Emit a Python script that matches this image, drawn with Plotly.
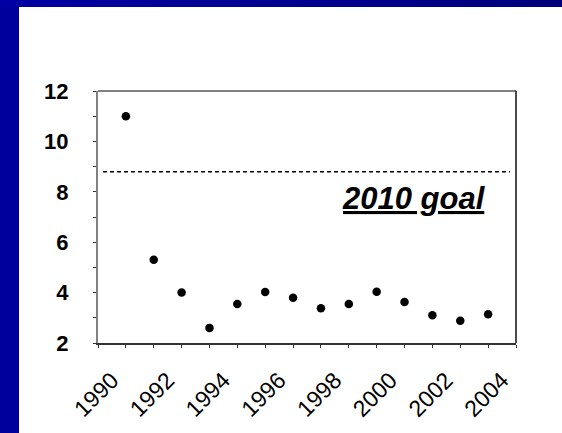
import plotly.graph_objects as go

years = [1990, 1991, 1992, 1993, 1994, 1995, 1996, 1997, 1998, 1999, 2000, 2001, 2002, 2003]
values = [11.0, 5.3, 4.0, 2.6, 3.55, 4.02, 3.8, 3.38, 3.55, 4.03, 3.63, 3.1, 2.88, 3.14]
goal_value = 8.8
goal_label = "2010 goal"
x_tick_vals = [1990, 1992, 1994, 1996, 1998, 2000, 2002, 2004]
x_tick_text = [str(v) for v in x_tick_vals]
y_tick_vals = [2, 4, 6, 8, 10, 12]

FONT = "Liberation Sans, Arial, sans-serif"

fig = go.Figure()
fig.add_trace(go.Scatter(
    x=years, y=values, mode="markers",
    marker=dict(color="black", size=8.5),
    showlegend=False, hoverinfo="x+y",
))

W, H = 562, 433
L, R, T, B = 98, 46, 91, 90
pw, ph = W - L - R, H - T - B

def px_x(p):
    return (p - L) / pw

def px_y(p):
    return 1 - (p - T) / ph

shapes = []
# left blue strip
shapes.append(dict(type="rect", xref="paper", yref="paper",
                   x0=px_x(0), x1=px_x(19), y0=px_y(H), y1=px_y(0),
                   fillcolor="#00009C", line=dict(width=0), layer="below"))
# top blue strip with gradient
n = 40
c0 = (0, 0, 0xA4)
c1 = (0, 0, 0x7E)
for i in range(n):
    a = i / (n - 1)
    col = "rgb(%d,%d,%d)" % tuple(round(c0[k] + (c1[k] - c0[k]) * a) for k in range(3))
    shapes.append(dict(type="rect", xref="paper", yref="paper",
                       x0=px_x(W * i / n), x1=px_x(W * (i + 1) / n + 1),
                       y0=px_y(7), y1=px_y(0),
                       fillcolor=col, line=dict(width=0), layer="below"))
# top and right borders of plot box
shapes.append(dict(type="line", xref="paper", yref="paper", x0=0, x1=1, y0=1, y1=1,
                   line=dict(color="#808080", width=2)))
shapes.append(dict(type="line", xref="paper", yref="paper", x0=1, x1=1, y0=0, y1=1,
                   line=dict(color="#111111", width=1.5)))
# goal line
shapes.append(dict(type="line", xref="paper", yref="y", x0=px_x(103), x1=px_x(510),
                   y0=goal_value, y1=goal_value,
                   line=dict(color="black", width=1.5, dash="4px,3px")))

fig.update_layout(
    width=W, height=H,
    margin=dict(l=L, r=R, t=T, b=B, pad=0, autoexpand=False),
    paper_bgcolor="white", plot_bgcolor="white",
    shapes=shapes,
    font=dict(family=FONT, color="black"),
    xaxis=dict(
        range=[1989, 2004], tickmode="array", tickvals=x_tick_vals, ticktext=x_tick_text,
        tickangle=-45, tickfont=dict(size=23, family=FONT, color="black"),
        ticks="outside", ticklen=3, tickcolor="#333333", tickwidth=1,
        minor=dict(dtick=1, tick0=1989, ticks="outside", ticklen=3, tickcolor="#333333", tickwidth=1),
        showline=True, linecolor="#333333", linewidth=1.5, automargin=False,
        showgrid=False, zeroline=False, ticklabelstandoff=10, ticklabelshift=-14,
    ),
    yaxis=dict(
        range=[2, 12], tickmode="array", tickvals=y_tick_vals,
        tickfont=dict(size=22, family=FONT, color="black", weight="bold"),
        ticks="outside", ticklen=3, tickcolor="#333333", tickwidth=1,
        minor=dict(dtick=1, tick0=2, ticks="outside", ticklen=3, tickcolor="#333333", tickwidth=1),
        showline=True, linecolor="#808080", linewidth=2, automargin=False,
        showgrid=False, zeroline=False, ticklabelstandoff=20,
    ),
    annotations=[dict(
        x=2003.0, y=7.75, xref="x", yref="y", xanchor="right", yanchor="middle",
        text="<b><i><u>" + goal_label + "</u></i></b>", showarrow=False,
        font=dict(size=31, family=FONT, color="black"),
    )],
)

fig.write_html(
    "out.html",
    config={"displayModeBar": False},
    post_script="document.body.style.margin='0px';document.body.style.overflow='hidden';",
)
